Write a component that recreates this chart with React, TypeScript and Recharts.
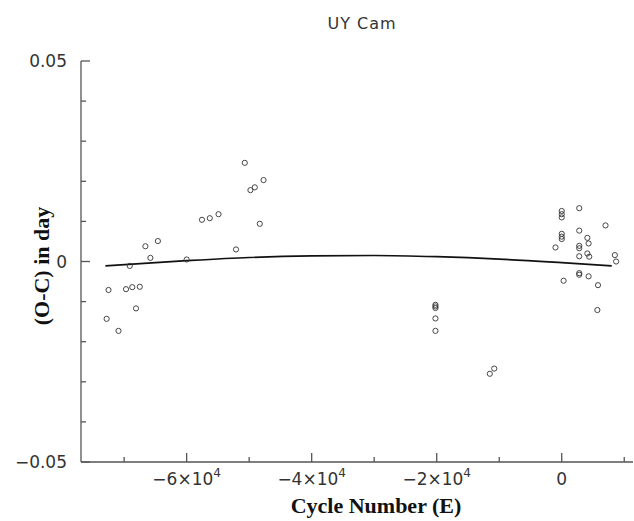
import React from "react";
import { ComposedChart, Scatter, Line, XAxis, YAxis } from "recharts";

// Observed O-C points: cycle number (E) and O-C (day)
const obsE = [
  -72800, -72500, -70900, -69100, -69700, -68700, -67500, -68100, -66600, -65800, -64600, -60000,
  -57550, -56300, -54900, -52100, -50700, -49800, -49100, -47700, -48300,
  -20200, -20200, -20200, -20200, -20200, -11500, -10800,
  0, 0, 0, 2800, 7000, 0, 0, 0, 2800, -1000, 2800, 2800, 4100, 4300, 2800, 4100, 4400, 8500, 8700,
  2800, 2800, 300, 4300, 5800, 5700,
];
const obsOC = [
  -0.0143, -0.0071, -0.0173, -0.0011, -0.0069, -0.0064, -0.0063, -0.0117, 0.0038, 0.0009, 0.0051, 0.0005,
  0.0104, 0.0108, 0.0118, 0.003, 0.0246, 0.0178, 0.0185, 0.0203, 0.0094,
  -0.0108, -0.0112, -0.0116, -0.0142, -0.0173, -0.028, -0.0267,
  0.0126, 0.0118, 0.011, 0.0133, 0.009, 0.0069, 0.0062, 0.0056, 0.0077, 0.0035, 0.0039, 0.0033, 0.0059, 0.0045, 0.0013, 0.002, 0.0012, 0.0016, 0.0,
  -0.0029, -0.0033, -0.0048, -0.0037, -0.0059, -0.0121,
];

// Fitted curve
const fitE = [-73000, -60000, -50000, -40000, -30000, -20000, -10000, 0, 8000];
const fitOC = [-0.0011, 0.0002, 0.001, 0.0014, 0.0015, 0.0012, 0.0006, -0.0003, -0.0011];

const xTicks = [-70000, -60000, -50000, -40000, -30000, -20000, -10000, 0, 10000];
const xMajorTicks = [-60000, -40000, -20000, 0];
const xMajorMantissa = ["−6", "−4", "−2", "0"];
const yTicks = [-0.05, -0.04, -0.03, -0.02, -0.01, 0, 0.01, 0.02, 0.03, 0.04, 0.05];
const yMajorTicks = [-0.05, 0, 0.05];
const yMajorLabels = ["−0.05", "0", "0.05"];

const title = "UY Cam";
const xTitle = "Cycle Number (E)";
const yTitle = "(O-C) in day";

const obsData = obsE.map((E, i) => ({ E, v: obsOC[i] }));
const fitData = fitE.map((E, i) => ({ E, v: fitOC[i] }));

const AXIS = "#555";
const TICKFONT = "DejaVu Sans, sans-serif";

function majorIndex(list: number[], v: number) {
  return list.findIndex((m) => Math.abs(m - v) < 1e-9);
}

const BottomTick = (props: any) => {
  const { x, y, payload } = props;
  const i = majorIndex(xMajorTicks, payload.value);
  const major = i >= 0;
  return (
    <g>
      <line x1={x} x2={x} y1={y} y2={y - (major ? 9 : 5)} stroke={AXIS} strokeWidth={1.3} />
      {major &&
        (payload.value === 0 ? (
          <text x={x} y={y + 23} textAnchor="middle" fontSize={17} fontFamily={TICKFONT} fill="#333">
            0
          </text>
        ) : (
          <text x={x} y={y + 23} textAnchor="middle" fontSize={17} fontFamily={TICKFONT} fill="#333">
            {xMajorMantissa[i]}×10
            <tspan dy={-8} fontSize={12}>4</tspan>
          </text>
        ))}
    </g>
  );
};

const TopTick = (props: any) => {
  const { x, y, payload } = props;
  const major = majorIndex(xMajorTicks, payload.value) >= 0;
  return <line x1={x} x2={x} y1={y} y2={y + (major ? 9 : 5)} stroke={AXIS} strokeWidth={1.3} />;
};

const LeftTick = (props: any) => {
  const { x, y, payload } = props;
  const i = majorIndex(yMajorTicks, payload.value);
  const major = i >= 0;
  return (
    <g>
      <line x1={x} x2={x + (major ? 9 : 5)} y1={y} y2={y} stroke={AXIS} strokeWidth={1.3} />
      {major && (
        <text x={x - 14} y={y + 6} textAnchor="end" fontSize={17} fontFamily={TICKFONT} fill="#333">
          {yMajorLabels[i]}
        </text>
      )}
    </g>
  );
};

const OpenCircle = (props: any) => {
  const { cx, cy } = props;
  return <circle cx={cx} cy={cy} r={2.6} fill="none" stroke="#333" strokeWidth={0.9} />;
};

export default function App() {
  return (
    <div style={{ position: "absolute", left: 0, top: 0, width: 634, height: 521, background: "#fff" }}>
      <ComposedChart
        width={634}
        height={521}
        margin={{ top: 61, right: 1, bottom: 0, left: 0 }}
        style={{ position: "absolute", left: 0, top: 0 }}
      >
        <XAxis
          dataKey="E"
          type="number"
          domain={[-76900, 11400]}
          ticks={xTicks}
          height={59}
          tickSize={0}
          tickMargin={0}
          tickLine={false}
          tick={<BottomTick />}
          axisLine={{ stroke: AXIS, strokeWidth: 1.3 }}
          allowDataOverflow
          interval={0}
        />
        <XAxis
          xAxisId="top"
          orientation="top"
          dataKey="E"
          type="number"
          domain={[-76900, 11400]}
          ticks={xTicks}
          height={0}
          tickSize={0}
          tickMargin={0}
          tickLine={false}
          tick={<TopTick />}
          axisLine={{ stroke: AXIS, strokeWidth: 1.3 }}
          allowDataOverflow
          interval={0}
        />
        <YAxis
          dataKey="v"
          type="number"
          domain={[-0.05, 0.05]}
          ticks={yTicks}
          width={81}
          tickSize={0}
          tickMargin={0}
          tickLine={false}
          tick={<LeftTick />}
          axisLine={{ stroke: AXIS, strokeWidth: 1.3 }}
          allowDataOverflow
          interval={0}
        />
        <Scatter data={obsData} shape={<OpenCircle />} isAnimationActive={false} />
        <Line
          data={fitData}
          dataKey="v"
          type="monotone"
          dot={false}
          stroke="#111"
          strokeWidth={1.7}
          isAnimationActive={false}
        />
      </ComposedChart>
      <svg
        width={634}
        height={521}
        style={{ position: "absolute", left: 0, top: 0, pointerEvents: "none" }}
      >
        <text x={362} y={29} textAnchor="middle" fontSize={16} letterSpacing={1} fontFamily={TICKFONT} fill="#333">
          {title}
        </text>
        <text
          x={376}
          y={513}
          textAnchor="middle"
          fontSize={22}
          fontWeight="bold"
          fontFamily="Liberation Serif, Times New Roman, serif"
          fill="#111"
        >
          {xTitle}
        </text>
        <text
          x={49}
          y={266}
          textAnchor="middle"
          fontSize={22}
          fontWeight="bold"
          fontFamily="Liberation Serif, Times New Roman, serif"
          fill="#111"
          transform="rotate(-90 49 266)"
        >
          {yTitle}
        </text>
      </svg>
    </div>
  );
}
